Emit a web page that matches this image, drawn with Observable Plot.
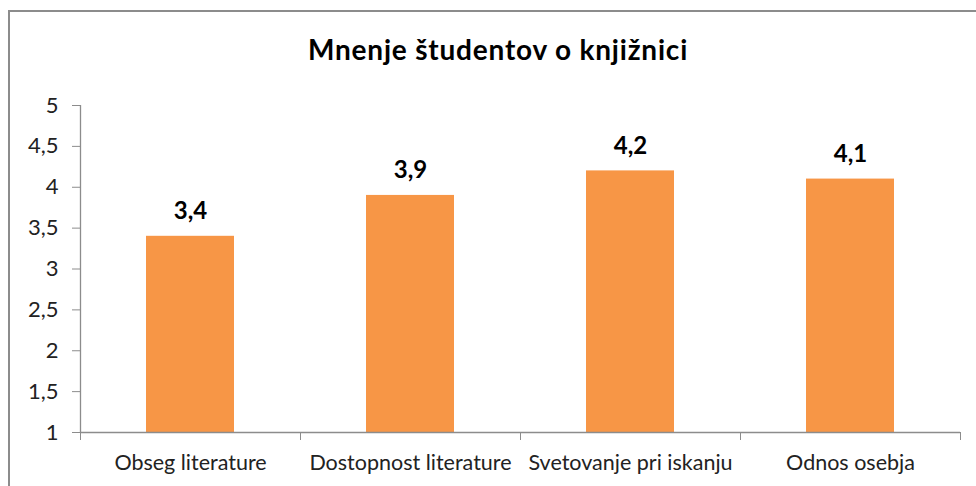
<!DOCTYPE html>
<html>
<head>
<meta charset="utf-8">
<script src="https://cdn.jsdelivr.net/npm/d3@7"></script>
<script src="https://cdn.jsdelivr.net/npm/@observablehq/plot@0.6"></script>
<style>
  html, body { margin: 0; padding: 0; background: #fff; }
  #wrap { position: relative; width: 976px; height: 486px; overflow: hidden; font-family: Lato, "Open Sans", sans-serif; }
  #frame { position: absolute; left: 8px; top: 10px; width: 1000px; height: 520px; border: 2px solid #8c8c8c; box-sizing: border-box; }
  #title { position: absolute; left: 8px; top: 31px; width: 980px; text-align: center; font-size: 28px; letter-spacing: 0.8px; font-weight: bold; color: #000; line-height: 36px; }
  #chart { position: absolute; left: 0; top: 80px; }
</style>
</head>
<body>
<div id="wrap">
  <div id="frame"></div>
  <div id="title">Mnenje študentov o knjižnici</div>
  <div id="chart"></div>
</div>
<script>
const categories = ["Obseg literature", "Dostopnost literature", "Svetovanje pri iskanju", "Odnos osebja"];
const values = [3.4, 3.9, 4.2, 4.1];
const yTicks = [1, 1.5, 2, 2.5, 3, 3.5, 4, 4.5, 5];

const data = categories.map((c, i) => ({category: c, index: i, value: values[i]}));
const fmt = v => String(v).replace(".", ",");
const n = categories.length;

const plot = Plot.plot({
  width: 976,
  height: 406,
  marginTop: 25,
  marginBottom: 54,
  marginLeft: 80,
  marginRight: 16,
  style: {fontFamily: "Lato, 'Open Sans', sans-serif", fontSize: "21px", color: "#222", background: "transparent"},
  x: {type: "linear", domain: [0, n], axis: null},
  y: {domain: [1, 5], axis: null},
  marks: [
    Plot.rectY(data, {x1: d => d.index, x2: d => d.index + 1, y1: 1, y2: "value", fill: "#F79646", insetLeft: 66, insetRight: 66}),
    Plot.text(data, {x: d => d.index + 0.5, y: "value", text: d => fmt(d.value), lineAnchor: "bottom", dy: -17, fontWeight: "bold", fontSize: 24, fill: "#000"}),
    Plot.ruleY([1], {stroke: "#8c8c8c", strokeWidth: 1.3}),
    Plot.axisY({ticks: yTicks, tickFormat: fmt, tickSize: 8, tickPadding: 14, stroke: "#8c8c8c", strokeOpacity: 1, fill: "#222", fontSize: 22, label: null}),
    Plot.ruleX([0], {stroke: "#8c8c8c", strokeWidth: 1.3}),
    Plot.axisX({ticks: d3.range(0, n + 1), tickFormat: () => "", tickSize: 8, stroke: "#8c8c8c", strokeOpacity: 1, label: null}),
    Plot.axisX({ticks: d3.range(0, n).map(i => i + 0.5), tickFormat: v => categories[Math.floor(v)], tickSize: 0, tickPadding: 22, fontSize: 21.5, fill: "#222", label: null})
  ]
});
document.getElementById("chart").appendChild(plot);
</script>
</body>
</html>
